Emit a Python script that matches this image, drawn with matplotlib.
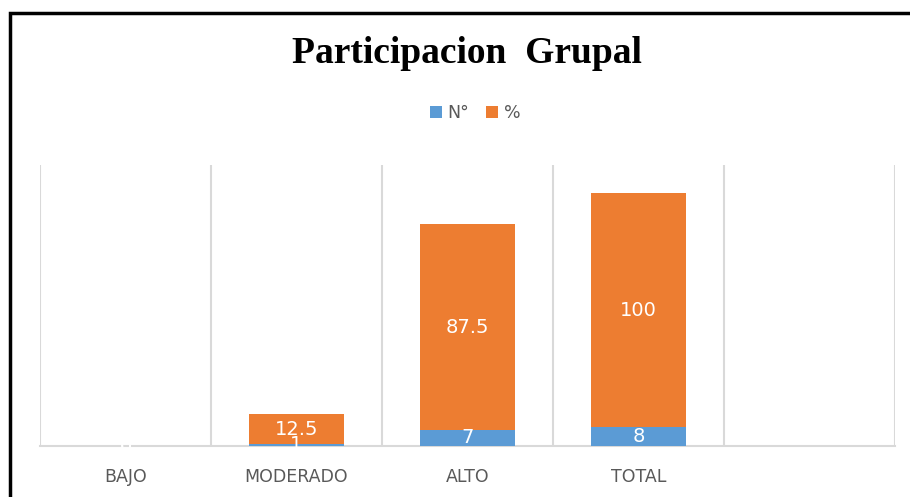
import numpy as np
import matplotlib.pyplot as plt
from matplotlib.patches import Rectangle

# datos
categorias = ['BAJO', 'MODERADO', 'ALTO', 'TOTAL', '']
n_valores = [0, 1, 7, 8, 0]
pct_valores = [0, 12.5, 87.5, 100, 0]
etiquetas_n = ['0', '1', '7', '8', '']
etiquetas_pct = ['0', '12.5', '87.5', '100', '']

azul = '#5b9bd5'
naranja = '#ed7d31'
gris = '#d9d9d9'

fig = plt.figure(figsize=(9.1, 4.97), dpi=100)
ax = fig.add_axes([0.044, 0.1026, 0.9395, 0.566])

x = np.arange(len(categorias))
ancho = 0.56
ax.bar(x, n_valores, ancho, color=azul, label='N°', zorder=3)
ax.bar(x, pct_valores, ancho, bottom=n_valores, color=naranja, label='%', zorder=3)

for i in range(len(categorias)):
    if etiquetas_n[i]:
        ax.text(x[i], n_valores[i] / 2, etiquetas_n[i], ha='center', va='center',
                color='white', fontsize=14, zorder=4)
    if etiquetas_pct[i]:
        ax.text(x[i], n_valores[i] + pct_valores[i] / 2, etiquetas_pct[i], ha='center',
                va='center', color='white', fontsize=14, zorder=4)

ax.set_xlim(-0.5, len(categorias) - 0.5)
ax.set_ylim(0, 120)
ax.set_yticks([])
ax.set_xticks(x)
ax.set_xticklabels(categorias, fontsize=12.5, color='#595959')
ax.tick_params(axis='x', length=0, pad=16)

# lineas verticales entre categorias
for b in np.arange(-0.5, len(categorias), 1.0):
    ax.axvline(b, color=gris, lw=1.5, zorder=1)

for s in ['top', 'right', 'left']:
    ax.spines[s].set_visible(False)
ax.spines['bottom'].set_color(gris)
ax.spines['bottom'].set_linewidth(1.5)

fig.text(0.513, 0.893, 'Participacion  Grupal', ha='center', va='center',
         fontsize=27, fontweight='bold', family='Liberation Serif')

fig.legend(loc='center', bbox_to_anchor=(0.522, 0.772), ncol=2, frameon=False,
           fontsize=12.5, handlelength=0.7, handleheight=0.7, columnspacing=1.0,
           handletextpad=0.3, labelcolor='#595959')

# marco negro
fig.patches.append(Rectangle((0.0105, -0.1), 1.1, 0.1 + 0.9738, transform=fig.transFigure,
                             fill=False, edgecolor='black', lw=2.5))

fig.savefig('out.png', dpi=100)
